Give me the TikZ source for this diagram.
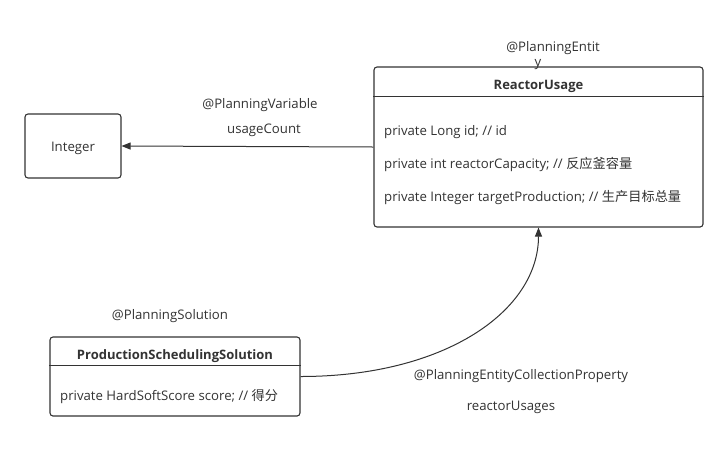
\documentclass[tikz,border=0pt]{standalone}
\usepackage{fontspec}
\setmainfont{Open Sans}
\newfontfamily\cjk{Noto Sans CJK SC}[Scale=1.0]
\usetikzlibrary{arrows.meta}
\definecolor{ln}{HTML}{333333}
\begin{document}
\begin{tikzpicture}[x=1pt,y=-1pt, font=\fontsize{13.2}{15}\selectfont, text=ln,
  box/.style={draw=ln, line width=1.1pt, rounded corners=3pt, inner sep=0pt},
  lbl/.style={inner sep=0pt, anchor=center, yshift=-2.2pt},
  attr/.style={inner sep=0pt, anchor=west, yshift=-2.2pt},
  ttl/.style={inner sep=0pt, anchor=center, yshift=-2.2pt, font=\fontsize{13}{15}\selectfont\bfseries},
  divider/.style={draw=ln, line width=1pt},
  conn/.style={draw=ln, line width=1pt, -{Triangle[length=9pt,width=7pt]}}]
\useasboundingbox[fill=white] (0,0) rectangle (728,448);
% Integer
\node[box, minimum width=96pt, minimum height=64pt] (int) at (73,146) {};
\node[lbl] (intt) at (int.center) {Integer};
% ReactorUsage
\node[box, minimum width=329pt, minimum height=160pt] (ru) at (538.5,147) {};
\draw[divider] ([yshift=-30pt]ru.north west) -- ([yshift=-30pt]ru.north east);
\node[ttl] (rut) at (538.5,84) {ReactorUsage};
\node[attr] (ru1) at (384,130) {private Long id; // id};
\node[attr] (ru2) at (384,162) {private int reactorCapacity; // {\cjk 反应釜容量}};
\node[attr] (ru3) at (384,195) {private Integer targetProduction; // {\cjk 生产目标总量}};
\node[lbl] (pe1) at (553,46) {@PlanningEntit};
\node[lbl] (pe2) at (538,62) {y};
% ProductionSchedulingSolution
\node[box, minimum width=250pt, minimum height=79pt] (ps) at (175,376.5) {};
\draw[divider] ([yshift=-29pt]ps.north west) -- ([yshift=-29pt]ps.north east);
\node[ttl] (pst) at (175,354) {ProductionSchedulingSolution};
\node[attr] (ps1) at (60,394) {private HardSoftScore score; // {\cjk 得分}};
\node[lbl] (psa) at (170,314) {@PlanningSolution};
% connectors
\draw[conn] (ru.west) -- (int.east);
\node[lbl] (pv1) at (260,103) {@PlanningVariable};
\node[lbl] (pv2) at (264,128) {usageCount};
\draw[conn] (ps.east) .. controls +(145,0) and +(0,83) .. (ru.south);
\node[lbl] (ec1) at (521,374) {@PlanningEntityCollectionProperty};
\node[lbl] (ec2) at (511,405) {reactorUsages};
\end{tikzpicture}
\end{document}
